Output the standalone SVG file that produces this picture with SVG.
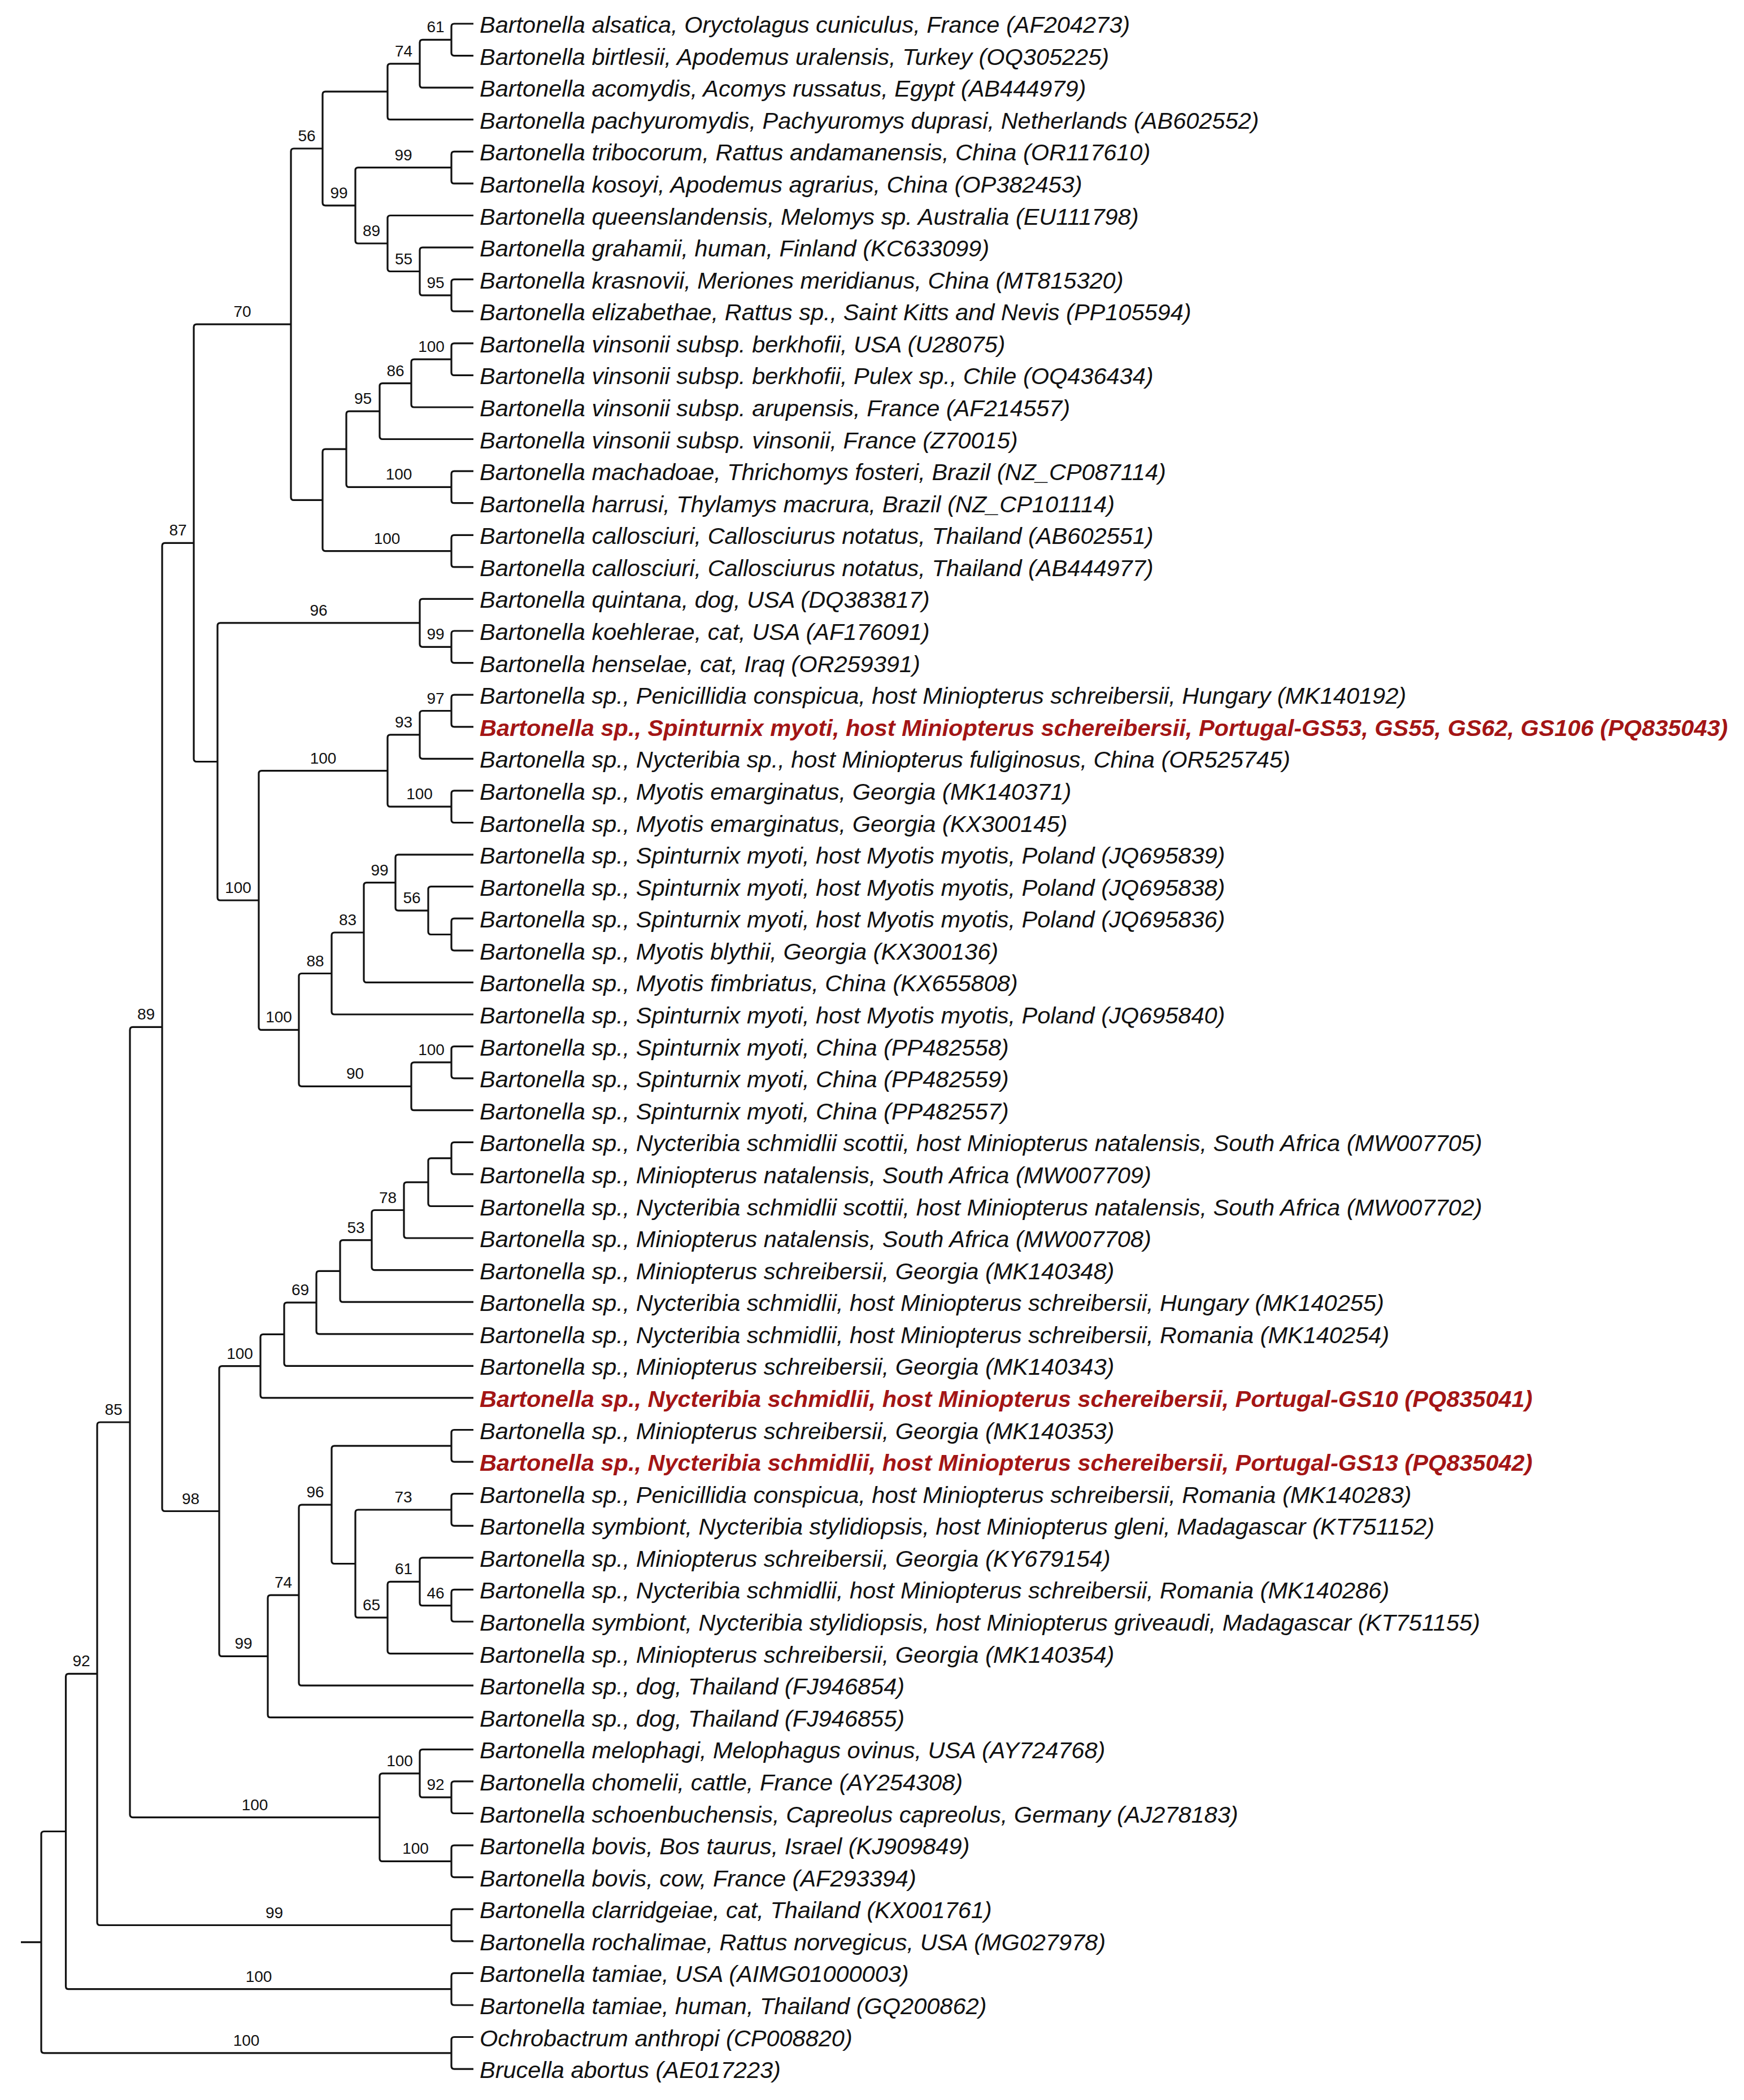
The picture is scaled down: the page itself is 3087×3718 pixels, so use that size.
<svg xmlns="http://www.w3.org/2000/svg" width="3087" height="3718" viewBox="0 0 3087 3718">
<style>
.br{fill:none;stroke:#111;stroke-width:3.2}
.lf{font-family:"Liberation Sans",Arial,sans-serif;font-style:italic;font-size:41.5px;fill:#111}
.hl{fill:#a31515;font-weight:bold}
.bs{font-family:"Liberation Sans",Arial,sans-serif;font-size:28px;fill:#111;text-anchor:middle}
</style>
<rect width="3087" height="3718" fill="#fff"/>
<g id="connectors">
<path class="br" d="M799 70.3V47Q799 42 804 42H838M799 70.3V93.6Q799 98.6 804 98.6H838"/>
<path class="br" d="M743 112.8V75.3Q743 70.3 748 70.3H799M743 112.8V150.2Q743 155.2 748 155.2H838"/>
<path class="br" d="M686 162.2V117.8Q686 112.8 691 112.8H743M686 162.2V206.7Q686 211.7 691 211.7H838"/>
<path class="br" d="M799 296.6V273.3Q799 268.3 804 268.3H838M799 296.6V319.9Q799 324.9 804 324.9H838"/>
<path class="br" d="M799 522.9V499.6Q799 494.6 804 494.6H838M799 522.9V546.2Q799 551.2 804 551.2H838"/>
<path class="br" d="M743 480.5V443.1Q743 438.1 748 438.1H838M743 480.5V517.9Q743 522.9 748 522.9H799"/>
<path class="br" d="M686 431V386.5Q686 381.5 691 381.5H838M686 431V475.5Q686 480.5 691 480.5H743"/>
<path class="br" d="M629 363.8V301.6Q629 296.6 634 296.6H799M629 363.8V426Q629 431 634 431H686"/>
<path class="br" d="M571 263V167.2Q571 162.2 576 162.2H686M571 263V358.8Q571 363.8 576 363.8H629"/>
<path class="br" d="M799 636.1V612.8Q799 607.8 804 607.8H838M799 636.1V659.4Q799 664.4 804 664.4H838"/>
<path class="br" d="M728 678.6V641.1Q728 636.1 733 636.1H799M728 678.6V716Q728 721 733 721H838"/>
<path class="br" d="M672 728.1V683.6Q672 678.6 677 678.6H728M672 728.1V772.5Q672 777.5 677 777.5H838"/>
<path class="br" d="M799 862.4V839.1Q799 834.1 804 834.1H838M799 862.4V885.7Q799 890.7 804 890.7H838"/>
<path class="br" d="M613 795.2V733.1Q613 728.1 618 728.1H672M613 795.2V857.4Q613 862.4 618 862.4H799"/>
<path class="br" d="M799 975.6V952.3Q799 947.3 804 947.3H838M799 975.6V998.9Q799 1003.9 804 1003.9H838"/>
<path class="br" d="M571 885.4V800.2Q571 795.2 576 795.2H613M571 885.4V970.6Q571 975.6 576 975.6H799"/>
<path class="br" d="M515 574.2V268Q515 263 520 263H571M515 574.2V880.4Q515 885.4 520 885.4H571"/>
<path class="br" d="M799 1145.3V1122Q799 1117 804 1117H838M799 1145.3V1168.6Q799 1173.6 804 1173.6H838"/>
<path class="br" d="M743 1102.9V1065.4Q743 1060.4 748 1060.4H838M743 1102.9V1140.3Q743 1145.3 748 1145.3H799"/>
<path class="br" d="M799 1258.5V1235.2Q799 1230.2 804 1230.2H838M799 1258.5V1281.8Q799 1286.8 804 1286.8H838"/>
<path class="br" d="M743 1300.9V1263.5Q743 1258.5 748 1258.5H799M743 1300.9V1338.3Q743 1343.3 748 1343.3H838"/>
<path class="br" d="M799 1428.2V1404.9Q799 1399.9 804 1399.9H838M799 1428.2V1451.5Q799 1456.5 804 1456.5H838"/>
<path class="br" d="M686 1364.6V1305.9Q686 1300.9 691 1300.9H743M686 1364.6V1423.2Q686 1428.2 691 1428.2H799"/>
<path class="br" d="M799 1654.5V1631.2Q799 1626.2 804 1626.2H838M799 1654.5V1677.8Q799 1682.8 804 1682.8H838"/>
<path class="br" d="M758 1612.1V1574.7Q758 1569.7 763 1569.7H838M758 1612.1V1649.5Q758 1654.5 763 1654.5H799"/>
<path class="br" d="M700 1562.6V1518.1Q700 1513.1 705 1513.1H838M700 1562.6V1607.1Q700 1612.1 705 1612.1H758"/>
<path class="br" d="M644 1651V1567.6Q644 1562.6 649 1562.6H700M644 1651V1734.4Q644 1739.4 649 1739.4H838"/>
<path class="br" d="M587 1723.5V1656Q587 1651 592 1651H644M587 1723.5V1791Q587 1796 592 1796H838"/>
<path class="br" d="M799 1880.9V1857.6Q799 1852.6 804 1852.6H838M799 1880.9V1904.1Q799 1909.1 804 1909.1H838"/>
<path class="br" d="M728 1923.3V1885.9Q728 1880.9 733 1880.9H799M728 1923.3V1960.7Q728 1965.7 733 1965.7H838"/>
<path class="br" d="M529 1823.4V1728.5Q529 1723.5 534 1723.5H587M529 1823.4V1918.3Q529 1923.3 534 1923.3H728"/>
<path class="br" d="M458 1594V1369.6Q458 1364.6 463 1364.6H686M458 1594V1818.4Q458 1823.4 463 1823.4H529"/>
<path class="br" d="M385 1348.5V1107.9Q385 1102.9 390 1102.9H743M385 1348.5V1589Q385 1594 390 1594H458"/>
<path class="br" d="M343 961.3V579.2Q343 574.2 348 574.2H515M343 961.3V1343.5Q343 1348.5 348 1348.5H385"/>
<path class="br" d="M799 2050.6V2027.3Q799 2022.3 804 2022.3H838M799 2050.6V2073.9Q799 2078.9 804 2078.9H838"/>
<path class="br" d="M758 2093.1V2055.6Q758 2050.6 763 2050.6H799M758 2093.1V2130.5Q758 2135.5 763 2135.5H838"/>
<path class="br" d="M715 2142.5V2098.1Q715 2093.1 720 2093.1H758M715 2142.5V2187Q715 2192 720 2192H838"/>
<path class="br" d="M658 2195.6V2147.5Q658 2142.5 663 2142.5H715M658 2195.6V2243.6Q658 2248.6 663 2248.6H838"/>
<path class="br" d="M602 2250.4V2200.6Q602 2195.6 607 2195.6H658M602 2250.4V2300.2Q602 2305.2 607 2305.2H838"/>
<path class="br" d="M560 2306.1V2255.4Q560 2250.4 565 2250.4H602M560 2306.1V2356.8Q560 2361.8 565 2361.8H838"/>
<path class="br" d="M503 2362.3V2311.1Q503 2306.1 508 2306.1H560M503 2362.3V2413.4Q503 2418.4 508 2418.4H838"/>
<path class="br" d="M461 2418.6V2367.3Q461 2362.3 466 2362.3H503M461 2418.6V2469.9Q461 2474.9 466 2474.9H838"/>
<path class="br" d="M799 2559.8V2536.5Q799 2531.5 804 2531.5H838M799 2559.8V2583.1Q799 2588.1 804 2588.1H838"/>
<path class="br" d="M799 2673V2649.7Q799 2644.7 804 2644.7H838M799 2673V2696.3Q799 2701.3 804 2701.3H838"/>
<path class="br" d="M799 2842.7V2819.4Q799 2814.4 804 2814.4H838M799 2842.7V2866Q799 2871 804 2871H838"/>
<path class="br" d="M743 2800.3V2762.8Q743 2757.8 748 2757.8H838M743 2800.3V2837.7Q743 2842.7 748 2842.7H799"/>
<path class="br" d="M686 2863.9V2805.3Q686 2800.3 691 2800.3H743M686 2863.9V2922.6Q686 2927.6 691 2927.6H838"/>
<path class="br" d="M629 2768.5V2678Q629 2673 634 2673H799M629 2768.5V2858.9Q629 2863.9 634 2863.9H686"/>
<path class="br" d="M587 2664.1V2564.8Q587 2559.8 592 2559.8H799M587 2664.1V2763.5Q587 2768.5 592 2768.5H629"/>
<path class="br" d="M529 2824.2V2669.1Q529 2664.1 534 2664.1H587M529 2824.2V2979.2Q529 2984.2 534 2984.2H838"/>
<path class="br" d="M474 2932.4V2829.2Q474 2824.2 479 2824.2H529M474 2932.4V3035.7Q474 3040.7 479 3040.7H838"/>
<path class="br" d="M388 2675.5V2423.6Q388 2418.6 393 2418.6H461M388 2675.5V2927.4Q388 2932.4 393 2932.4H474"/>
<path class="br" d="M287 1818.4V966.3Q287 961.3 292 961.3H343M287 1818.4V2670.5Q287 2675.5 292 2675.5H388"/>
<path class="br" d="M799 3182.2V3158.9Q799 3153.9 804 3153.9H838M799 3182.2V3205.5Q799 3210.5 804 3210.5H838"/>
<path class="br" d="M743 3139.8V3102.3Q743 3097.3 748 3097.3H838M743 3139.8V3177.2Q743 3182.2 748 3182.2H799"/>
<path class="br" d="M799 3295.4V3272.1Q799 3267.1 804 3267.1H838M799 3295.4V3318.6Q799 3323.6 804 3323.6H838"/>
<path class="br" d="M672 3217.6V3144.8Q672 3139.8 677 3139.8H743M672 3217.6V3290.4Q672 3295.4 677 3295.4H799"/>
<path class="br" d="M230 2518V1823.4Q230 1818.4 235 1818.4H287M230 2518V3212.6Q230 3217.6 235 3217.6H672"/>
<path class="br" d="M799 3408.5V3385.2Q799 3380.2 804 3380.2H838M799 3408.5V3431.8Q799 3436.8 804 3436.8H838"/>
<path class="br" d="M172 2963.3V2523Q172 2518 177 2518H230M172 2963.3V3403.5Q172 3408.5 177 3408.5H799"/>
<path class="br" d="M799 3521.7V3498.4Q799 3493.4 804 3493.4H838M799 3521.7V3545Q799 3550 804 3550H838"/>
<path class="br" d="M116.5 3242.5V2968.3Q116.5 2963.3 121.5 2963.3H172M116.5 3242.5V3516.7Q116.5 3521.7 121.5 3521.7H799"/>
<path class="br" d="M799 3634.8V3611.5Q799 3606.5 804 3606.5H838M799 3634.8V3658.1Q799 3663.1 804 3663.1H838"/>
<path class="br" d="M37 3438.7H73M73 3438.7V3247.5Q73 3242.5 78 3242.5H116.5M73 3438.7V3629.8Q73 3634.8 78 3634.8H799"/>
</g>
<g id="support-values">
<g id="n61a"><text class="bs" x="771" y="57.3">61</text></g>
<g id="n74a"><text class="bs" x="714.5" y="99.8">74</text></g>
<g id="n99a"><text class="bs" x="714" y="283.6">99</text></g>
<g id="n95a"><text class="bs" x="771" y="509.9">95</text></g>
<g id="n55"><text class="bs" x="714.5" y="467.5">55</text></g>
<g id="n89a"><text class="bs" x="657.5" y="418">89</text></g>
<g id="n99b"><text class="bs" x="600" y="350.8">99</text></g>
<g id="n56a"><text class="bs" x="543" y="250">56</text></g>
<g id="n100a"><text class="bs" x="763.5" y="623.1">100</text></g>
<g id="n86"><text class="bs" x="700" y="665.6">86</text></g>
<g id="n95b"><text class="bs" x="642.5" y="715.1">95</text></g>
<g id="n100b"><text class="bs" x="706" y="849.4">100</text></g>
<g id="n100c"><text class="bs" x="685" y="962.6">100</text></g>
<g id="n70"><text class="bs" x="429" y="561.2">70</text></g>
<g id="n99c"><text class="bs" x="771" y="1132.3">99</text></g>
<g id="n96a"><text class="bs" x="564" y="1089.9">96</text></g>
<g id="n97"><text class="bs" x="771" y="1245.5">97</text></g>
<g id="n93"><text class="bs" x="714.5" y="1287.9">93</text></g>
<g id="n100d"><text class="bs" x="742.5" y="1415.2">100</text></g>
<g id="n100e"><text class="bs" x="572" y="1351.6">100</text></g>
<g id="n56b"><text class="bs" x="729" y="1599.1">56</text></g>
<g id="n99d"><text class="bs" x="672" y="1549.6">99</text></g>
<g id="n83"><text class="bs" x="615.5" y="1638">83</text></g>
<g id="n88"><text class="bs" x="558" y="1710.5">88</text></g>
<g id="n100f"><text class="bs" x="763.5" y="1867.9">100</text></g>
<g id="n90"><text class="bs" x="628.5" y="1910.3">90</text></g>
<g id="n100g"><text class="bs" x="493.5" y="1810.4">100</text></g>
<g id="n100h"><text class="bs" x="421.5" y="1581">100</text></g>
<g id="n87"><text class="bs" x="315" y="948.3">87</text></g>
<g id="n78"><text class="bs" x="686.5" y="2129.5">78</text></g>
<g id="n53"><text class="bs" x="630" y="2182.6">53</text></g>
<g id="n69"><text class="bs" x="531.5" y="2293.1">69</text></g>
<g id="n100i"><text class="bs" x="424.5" y="2405.6">100</text></g>
<g id="n73"><text class="bs" x="714" y="2660">73</text></g>
<g id="n46"><text class="bs" x="771" y="2829.7">46</text></g>
<g id="n61b"><text class="bs" x="714.5" y="2787.3">61</text></g>
<g id="n65"><text class="bs" x="657.5" y="2850.9">65</text></g>
<g id="n96b"><text class="bs" x="558" y="2651.1">96</text></g>
<g id="n74b"><text class="bs" x="501.5" y="2811.2">74</text></g>
<g id="n99e"><text class="bs" x="431" y="2919.4">99</text></g>
<g id="n98"><text class="bs" x="337.5" y="2662.5">98</text></g>
<g id="n89b"><text class="bs" x="258.5" y="1805.4">89</text></g>
<g id="n92a"><text class="bs" x="771" y="3169.2">92</text></g>
<g id="n100j"><text class="bs" x="707.5" y="3126.8">100</text></g>
<g id="n100k"><text class="bs" x="735.5" y="3282.4">100</text></g>
<g id="n100l"><text class="bs" x="451" y="3204.6">100</text></g>
<g id="n85"><text class="bs" x="201" y="2505">85</text></g>
<g id="n99f"><text class="bs" x="485.5" y="3395.5">99</text></g>
<g id="n92b"><text class="bs" x="144" y="2950.3">92</text></g>
<g id="n100m"><text class="bs" x="458" y="3508.7">100</text></g>
<g id="n100n"><text class="bs" x="436" y="3621.8">100</text></g>
</g>
<g id="leaves">
<g id="leaf1"><text class="lf" x="849" y="58">Bartonella alsatica, Oryctolagus cuniculus, France (AF204273)</text></g>
<g id="leaf2"><text class="lf" x="849" y="114.6">Bartonella birtlesii, Apodemus uralensis, Turkey (OQ305225)</text></g>
<g id="leaf3"><text class="lf" x="849" y="171.2">Bartonella acomydis, Acomys russatus, Egypt (AB444979)</text></g>
<g id="leaf4"><text class="lf" x="849" y="227.7">Bartonella pachyuromydis, Pachyuromys duprasi, Netherlands (AB602552)</text></g>
<g id="leaf5"><text class="lf" x="849" y="284.3">Bartonella tribocorum, Rattus andamanensis, China (OR117610)</text></g>
<g id="leaf6"><text class="lf" x="849" y="340.9">Bartonella kosoyi, Apodemus agrarius, China (OP382453)</text></g>
<g id="leaf7"><text class="lf" x="849" y="397.5">Bartonella queenslandensis, Melomys sp. Australia (EU111798)</text></g>
<g id="leaf8"><text class="lf" x="849" y="454.1">Bartonella grahamii, human, Finland (KC633099)</text></g>
<g id="leaf9"><text class="lf" x="849" y="510.6">Bartonella krasnovii, Meriones meridianus, China (MT815320)</text></g>
<g id="leaf10"><text class="lf" x="849" y="567.2">Bartonella elizabethae, Rattus sp., Saint Kitts and Nevis (PP105594)</text></g>
<g id="leaf11"><text class="lf" x="849" y="623.8">Bartonella vinsonii subsp. berkhofii, USA (U28075)</text></g>
<g id="leaf12"><text class="lf" x="849" y="680.4">Bartonella vinsonii subsp. berkhofii, Pulex sp., Chile (OQ436434)</text></g>
<g id="leaf13"><text class="lf" x="849" y="737">Bartonella vinsonii subsp. arupensis, France (AF214557)</text></g>
<g id="leaf14"><text class="lf" x="849" y="793.5">Bartonella vinsonii subsp. vinsonii, France (Z70015)</text></g>
<g id="leaf15"><text class="lf" x="849" y="850.1">Bartonella machadoae, Thrichomys fosteri, Brazil (NZ_CP087114)</text></g>
<g id="leaf16"><text class="lf" x="849" y="906.7">Bartonella harrusi, Thylamys macrura, Brazil (NZ_CP101114)</text></g>
<g id="leaf17"><text class="lf" x="849" y="963.3">Bartonella callosciuri, Callosciurus notatus, Thailand (AB602551)</text></g>
<g id="leaf18"><text class="lf" x="849" y="1019.9">Bartonella callosciuri, Callosciurus notatus, Thailand (AB444977)</text></g>
<g id="leaf19"><text class="lf" x="849" y="1076.4">Bartonella quintana, dog, USA (DQ383817)</text></g>
<g id="leaf20"><text class="lf" x="849" y="1133">Bartonella koehlerae, cat, USA (AF176091)</text></g>
<g id="leaf21"><text class="lf" x="849" y="1189.6">Bartonella henselae, cat, Iraq (OR259391)</text></g>
<g id="leaf22"><text class="lf" x="849" y="1246.2">Bartonella sp., Penicillidia conspicua, host Miniopterus schreibersii, Hungary (MK140192)</text></g>
<g id="leaf23"><text class="lf hl" x="849" y="1302.8">Bartonella sp., Spinturnix myoti, host Miniopterus schereibersii, Portugal-GS53, GS55, GS62, GS106 (PQ835043)</text></g>
<g id="leaf24"><text class="lf" x="849" y="1359.3">Bartonella sp., Nycteribia sp., host Miniopterus fuliginosus, China (OR525745)</text></g>
<g id="leaf25"><text class="lf" x="849" y="1415.9">Bartonella sp., Myotis emarginatus, Georgia (MK140371)</text></g>
<g id="leaf26"><text class="lf" x="849" y="1472.5">Bartonella sp., Myotis emarginatus, Georgia (KX300145)</text></g>
<g id="leaf27"><text class="lf" x="849" y="1529.1">Bartonella sp., Spinturnix myoti, host Myotis myotis, Poland (JQ695839)</text></g>
<g id="leaf28"><text class="lf" x="849" y="1585.7">Bartonella sp., Spinturnix myoti, host Myotis myotis, Poland (JQ695838)</text></g>
<g id="leaf29"><text class="lf" x="849" y="1642.2">Bartonella sp., Spinturnix myoti, host Myotis myotis, Poland (JQ695836)</text></g>
<g id="leaf30"><text class="lf" x="849" y="1698.8">Bartonella sp., Myotis blythii, Georgia (KX300136)</text></g>
<g id="leaf31"><text class="lf" x="849" y="1755.4">Bartonella sp., Myotis fimbriatus, China (KX655808)</text></g>
<g id="leaf32"><text class="lf" x="849" y="1812">Bartonella sp., Spinturnix myoti, host Myotis myotis, Poland (JQ695840)</text></g>
<g id="leaf33"><text class="lf" x="849" y="1868.6">Bartonella sp., Spinturnix myoti, China (PP482558)</text></g>
<g id="leaf34"><text class="lf" x="849" y="1925.1">Bartonella sp., Spinturnix myoti, China (PP482559)</text></g>
<g id="leaf35"><text class="lf" x="849" y="1981.7">Bartonella sp., Spinturnix myoti, China (PP482557)</text></g>
<g id="leaf36"><text class="lf" x="849" y="2038.3">Bartonella sp., Nycteribia schmidlii scottii, host Miniopterus natalensis, South Africa (MW007705)</text></g>
<g id="leaf37"><text class="lf" x="849" y="2094.9">Bartonella sp., Miniopterus natalensis, South Africa (MW007709)</text></g>
<g id="leaf38"><text class="lf" x="849" y="2151.5">Bartonella sp., Nycteribia schmidlii scottii, host Miniopterus natalensis, South Africa (MW007702)</text></g>
<g id="leaf39"><text class="lf" x="849" y="2208">Bartonella sp., Miniopterus natalensis, South Africa (MW007708)</text></g>
<g id="leaf40"><text class="lf" x="849" y="2264.6">Bartonella sp., Miniopterus schreibersii, Georgia (MK140348)</text></g>
<g id="leaf41"><text class="lf" x="849" y="2321.2">Bartonella sp., Nycteribia schmidlii, host Miniopterus schreibersii, Hungary (MK140255)</text></g>
<g id="leaf42"><text class="lf" x="849" y="2377.8">Bartonella sp., Nycteribia schmidlii, host Miniopterus schreibersii, Romania (MK140254)</text></g>
<g id="leaf43"><text class="lf" x="849" y="2434.4">Bartonella sp., Miniopterus schreibersii, Georgia (MK140343)</text></g>
<g id="leaf44"><text class="lf hl" x="849" y="2490.9">Bartonella sp., Nycteribia schmidlii, host Miniopterus schereibersii, Portugal-GS10 (PQ835041)</text></g>
<g id="leaf45"><text class="lf" x="849" y="2547.5">Bartonella sp., Miniopterus schreibersii, Georgia (MK140353)</text></g>
<g id="leaf46"><text class="lf hl" x="849" y="2604.1">Bartonella sp., Nycteribia schmidlii, host Miniopterus schereibersii, Portugal-GS13 (PQ835042)</text></g>
<g id="leaf47"><text class="lf" x="849" y="2660.7">Bartonella sp., Penicillidia conspicua, host Miniopterus schreibersii, Romania (MK140283)</text></g>
<g id="leaf48"><text class="lf" x="849" y="2717.3">Bartonella symbiont, Nycteribia stylidiopsis, host Miniopterus gleni, Madagascar (KT751152)</text></g>
<g id="leaf49"><text class="lf" x="849" y="2773.8">Bartonella sp., Miniopterus schreibersii, Georgia (KY679154)</text></g>
<g id="leaf50"><text class="lf" x="849" y="2830.4">Bartonella sp., Nycteribia schmidlii, host Miniopterus schreibersii, Romania (MK140286)</text></g>
<g id="leaf51"><text class="lf" x="849" y="2887">Bartonella symbiont, Nycteribia stylidiopsis, host Miniopterus griveaudi, Madagascar (KT751155)</text></g>
<g id="leaf52"><text class="lf" x="849" y="2943.6">Bartonella sp., Miniopterus schreibersii, Georgia (MK140354)</text></g>
<g id="leaf53"><text class="lf" x="849" y="3000.2">Bartonella sp., dog, Thailand (FJ946854)</text></g>
<g id="leaf54"><text class="lf" x="849" y="3056.7">Bartonella sp., dog, Thailand (FJ946855)</text></g>
<g id="leaf55"><text class="lf" x="849" y="3113.3">Bartonella melophagi, Melophagus ovinus, USA (AY724768)</text></g>
<g id="leaf56"><text class="lf" x="849" y="3169.9">Bartonella chomelii, cattle, France (AY254308)</text></g>
<g id="leaf57"><text class="lf" x="849" y="3226.5">Bartonella schoenbuchensis, Capreolus capreolus, Germany (AJ278183)</text></g>
<g id="leaf58"><text class="lf" x="849" y="3283.1">Bartonella bovis, Bos taurus, Israel (KJ909849)</text></g>
<g id="leaf59"><text class="lf" x="849" y="3339.6">Bartonella bovis, cow, France (AF293394)</text></g>
<g id="leaf60"><text class="lf" x="849" y="3396.2">Bartonella clarridgeiae, cat, Thailand (KX001761)</text></g>
<g id="leaf61"><text class="lf" x="849" y="3452.8">Bartonella rochalimae, Rattus norvegicus, USA (MG027978)</text></g>
<g id="leaf62"><text class="lf" x="849" y="3509.4">Bartonella tamiae, USA (AIMG01000003)</text></g>
<g id="leaf63"><text class="lf" x="849" y="3566">Bartonella tamiae, human, Thailand (GQ200862)</text></g>
<g id="leaf64"><text class="lf" x="849" y="3622.5">Ochrobactrum anthropi (CP008820)</text></g>
<g id="leaf65"><text class="lf" x="849" y="3679.1">Brucella abortus (AE017223)</text></g>
</g>
</svg>
